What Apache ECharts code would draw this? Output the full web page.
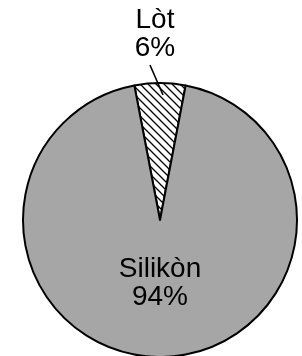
<!DOCTYPE html>
<html>
<head>
<meta charset="utf-8">
<script src="https://cdn.jsdelivr.net/npm/echarts@6/dist/echarts.min.js"></script>
<style>
  html, body { margin: 0; padding: 0; background: #fff; }
  #chart { width: 302px; height: 356px; }
</style>
</head>
<body>
<div id="chart"></div>
<script>
const names = ["Lòt", "Silikòn"];
const values = [6, 94];

// diagonal hatch for the small slice
const hatch = document.createElement("canvas");
hatch.width = 8;
hatch.height = 8;
const hc = hatch.getContext("2d");
hc.fillStyle = "#fff";
hc.fillRect(0, 0, 8, 8);
hc.strokeStyle = "#000";
hc.lineWidth = 1.3;
hc.beginPath();
hc.moveTo(-2, -2); hc.lineTo(10, 10);
hc.moveTo(-2, 6); hc.lineTo(2, 10);
hc.moveTo(6, -2); hc.lineTo(10, 2);
hc.stroke();

const fills = [{ image: hatch, repeat: "repeat" }, "#a6a6a6"];

const base = {
  type: "pie",
  center: [160, 220],
  radius: 137,
  startAngle: 100.8,
  clockwise: true,
  percentPrecision: 0,
  silent: true,
};

const chart = echarts.init(document.getElementById("chart"));
chart.setOption({
  animation: false,
  series: [
    Object.assign({}, base, {
      z: 1,
      data: names.map((n, i) => ({ name: n, value: values[i], itemStyle: { color: fills[i] } })),
      itemStyle: { borderColor: "#000", borderWidth: 2 },
      label: { show: false },
      labelLine: { show: false },
    }),
    // same pie, transparent, on a higher z so the leader line sits over the hatch
    Object.assign({}, base, {
      z: 3,
      data: names.map((n, i) => ({
        name: n,
        value: values[i],
        label: { position: i === 0 ? "outside" : "inside" },
        labelLine: { show: i === 0 },
      })),
      itemStyle: { color: "transparent", borderWidth: 0 },
      label: {
        formatter: "{b}\n{d}%",
        fontFamily: "Liberation Sans",
        fontSize: 28,
        lineHeight: 28,
        color: "#000",
      },
      labelLine: {
        lineStyle: { color: "#000", width: 1.6 },
        length: 10,
        length2: 5,
      },
      labelLayout: function (p) {
        if (p.dataIndex === 0) {
          const e = p.labelLinePoints ? p.labelLinePoints[0] : [160, 83];
          return {
            x: e[0] - 5,
            y: e[1] - 49,
            align: "center",
            verticalAlign: "middle",
            labelLinePoints: [
              [e[0] + 3, e[1] + 12],
              [e[0] - 3.5, e[1] - 3],
              [e[0] - 10, e[1] - 18],
            ],
          };
        }
        return { dy: -8 };
      },
    }),
  ],
});
</script>
</body>
</html>
